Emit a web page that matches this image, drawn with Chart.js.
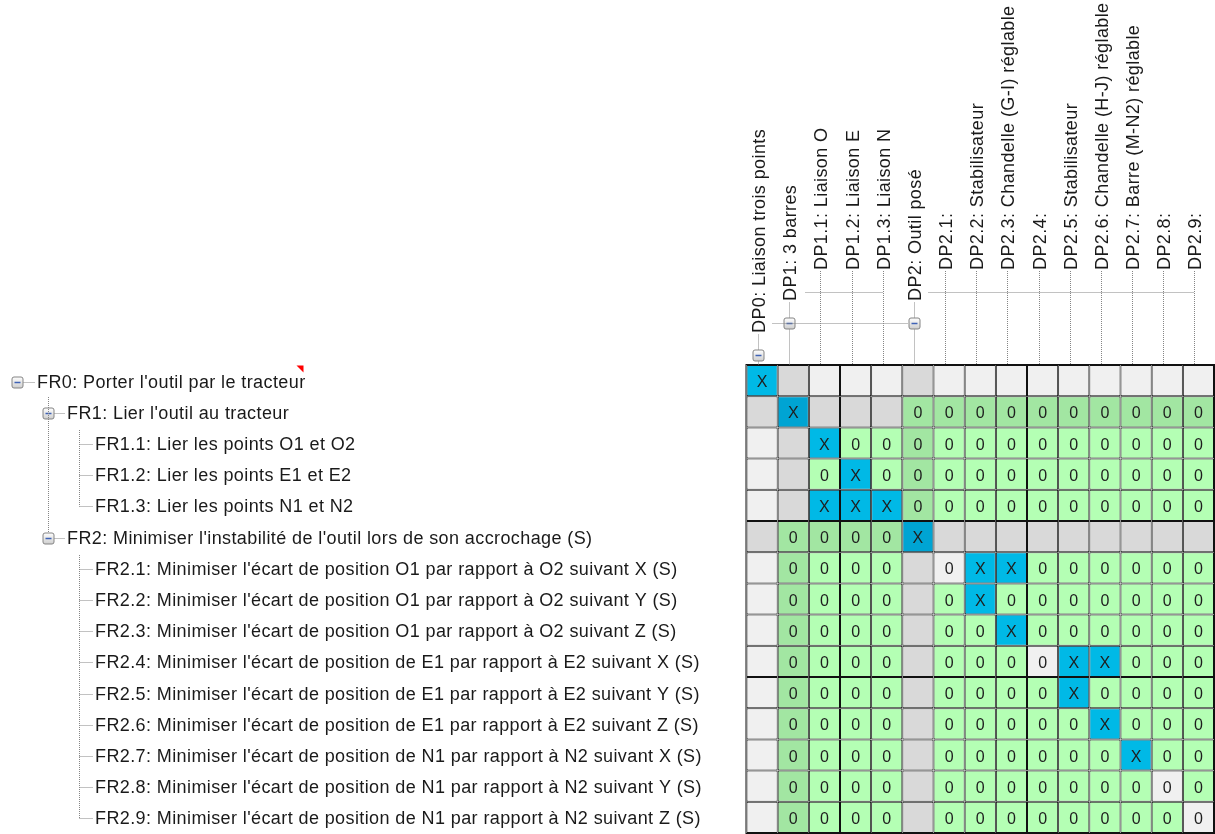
<!DOCTYPE html>
<html>
<head>
<meta charset="utf-8">
<script src="https://cdn.jsdelivr.net/npm/chart.js@4.4.0/dist/chart.umd.min.js"></script>
<style>
  body { margin: 0; background: #fff; }
  #wrap { width: 1215px; height: 834px; position: relative; }
</style>
</head>
<body>
<div id="wrap"><canvas id="dsm"></canvas></div>
<script>
// functional requirements (rows)
var frLabels = [
    "FR0: Porter l'outil par le tracteur",
    "FR1: Lier l'outil au tracteur",
    "FR1.1: Lier les points O1 et O2",
    "FR1.2: Lier les points E1 et E2",
    "FR1.3: Lier les points N1 et N2",
    "FR2: Minimiser l'instabilité de l'outil lors de son accrochage (S)",
    "FR2.1: Minimiser l'écart de position O1 par rapport à O2 suivant X (S)",
    "FR2.2: Minimiser l'écart de position O1 par rapport à O2 suivant Y (S)",
    "FR2.3: Minimiser l'écart de position O1 par rapport à O2 suivant Z (S)",
    "FR2.4: Minimiser l'écart de position de E1 par rapport à E2 suivant X (S)",
    "FR2.5: Minimiser l'écart de position de E1 par rapport à E2 suivant Y (S)",
    "FR2.6: Minimiser l'écart de position de E1 par rapport à E2 suivant Z (S)",
    "FR2.7: Minimiser l'écart de position de N1 par rapport à N2 suivant X (S)",
    "FR2.8: Minimiser l'écart de position de N1 par rapport à N2 suivant Y (S)",
    "FR2.9: Minimiser l'écart de position de N1 par rapport à N2 suivant Z (S)"
]
var frLevels = [0, 1, 2, 2, 2, 1, 2, 2, 2, 2, 2, 2, 2, 2, 2]

// design parameters (columns)
var dpLabels = [
    "DP0: Liaison trois points",
    "DP1: 3 barres",
    "DP1.1: Liaison O",
    "DP1.2: Liaison E",
    "DP1.3: Liaison N",
    "DP2: Outil posé",
    "DP2.1:",
    "DP2.2: Stabilisateur",
    "DP2.3: Chandelle (G-I) réglable",
    "DP2.4:",
    "DP2.5: Stabilisateur",
    "DP2.6: Chandelle (H-J) réglable",
    "DP2.7: Barre (M-N2) réglable",
    "DP2.8:",
    "DP2.9:"
]
var dpLevels = [0, 1, 2, 2, 2, 1, 2, 2, 2, 2, 2, 2, 2, 2, 2]

// design matrix: one string per FR, one char per DP (X = link, 0 = none, . = empty)
var matrix = [
    "X..............",
    ".X...0000000000",
    "..X000000000000",
    "..0X00000000000",
    "..XXX0000000000",
    ".0000X.........",
    ".0000.0XX000000",
    ".0000.0X0000000",
    ".0000.00X000000",
    ".0000.0000XX000",
    ".0000.0000X0000",
    ".0000.00000X000",
    ".0000.000000X00",
    ".0000.000000000",
    ".0000.000000000"
]

function cellColor(r, c) {
    var v = matrix[r][c]
    var parent = frLevels[r] == 1 || dpLevels[c] == 1
    if (v == 'X') return parent ? '#00a4d3' : '#00b9e6'
    if (v == '0') {
        if (r == c) return '#f0f0f0'
        return parent ? '#a2e6a2' : '#b4ffb4'
    }
    return parent ? '#d9d9d9' : '#f0f0f0'
}

var datasets = dpLabels.map(function (dp, c) {
    return {
        label: dp,
        data: frLabels.map(function () { return 1 }),
        backgroundColor: frLabels.map(function (fr, r) { return cellColor(r, c) }),
        borderColor: '#111',
        borderWidth: 1,
        borderSkipped: false,
        inflateAmount: 0,
        barPercentage: 1,
        categoryPercentage: 1
    }
})

var FONT = '18px "Liberation Sans", Arial, sans-serif'

function dotted(ctx, x1, y1, x2, y2) {
    ctx.save()
    ctx.strokeStyle = '#858585'
    ctx.lineWidth = 1
    ctx.setLineDash([1, 1])
    ctx.beginPath()
    ctx.moveTo(x1, y1)
    ctx.lineTo(x2, y2)
    ctx.stroke()
    ctx.restore()
}

function expander(ctx, cx, cy) {
    ctx.save()
    var g = ctx.createLinearGradient(0, cy - 5, 0, cy + 5)
    g.addColorStop(0, '#fcfcfc')
    g.addColorStop(1, '#d0d0d0')
    ctx.fillStyle = g
    ctx.strokeStyle = '#848484'
    ctx.lineWidth = 1
    ctx.beginPath()
    ctx.roundRect(cx - 5.5, cy - 5.5, 11, 11, 2)
    ctx.fill()
    ctx.stroke()
    ctx.strokeStyle = '#3f62b5'
    ctx.lineWidth = 1.5
    ctx.beginPath()
    ctx.moveTo(cx - 3, cy)
    ctx.lineTo(cx + 3, cy)
    ctx.stroke()
    ctx.restore()
}

var treePlugin = {
    id: 'trees',
    afterDraw: function (chart) {
        var ctx = chart.ctx
        var xs = chart.scales.x, ys = chart.scales.y
        var area = chart.chartArea

        // cell marks
        ctx.save()
        ctx.font = '16px "Liberation Sans", Arial, sans-serif'
        ctx.fillStyle = '#1e1e1e'
        ctx.textAlign = 'center'
        ctx.textBaseline = 'alphabetic'
        chart.data.datasets.forEach(function (ds, c) {
            chart.getDatasetMeta(c).data.forEach(function (bar, r) {
                var v = matrix[r][c]
                if (v == '.') return
                ctx.fillText(v, (bar.x + bar.base) / 2, bar.y + 6.5)
            })
        })
        ctx.restore()

        // outer frame
        ctx.save()
        ctx.strokeStyle = '#111'
        ctx.lineWidth = 1
        ctx.strokeRect(area.left - 0.5, area.top - 0.5, area.right - area.left + 1, area.bottom - area.top + 1)
        ctx.restore()

        // FR tree (left)
        var rowY = function (r) { return ys.getPixelForValue(r) }
        var textX = [37, 67, 95]
        var boxX = [17.5, 48.5]
        ctx.save()
        ctx.font = FONT
        ctx.letterSpacing = '0.4px'
        ctx.fillStyle = '#1a1a1a'
        ctx.textBaseline = 'alphabetic'
        frLabels.forEach(function (lab, r) {
            var lv = frLevels[r]
            var y = Math.round(rowY(r)) + 1.5
            if (lv < 2) {
                expander(ctx, boxX[lv], y)
                dotted(ctx, boxX[lv] + 6, y, textX[lv] - 2, y)
            } else {
                dotted(ctx, 79.5, y, textX[2] - 2, y)
            }
            ctx.fillText(lab, textX[lv], rowY(r) + 7)
            if (r == 0) {
                var xe = textX[0] + ctx.measureText(lab).width - 3
                ctx.fillStyle = '#ff0000'
                ctx.beginPath()
                ctx.moveTo(xe - 6, ys.getPixelForValue(0) - 15)
                ctx.lineTo(xe + 1, ys.getPixelForValue(0) - 15)
                ctx.lineTo(xe + 1, ys.getPixelForValue(0) - 8)
                ctx.fill()
                ctx.fillStyle = '#1a1a1a'
            }
        })
        // vertical connectors
        dotted(ctx, 48.5, Math.round(rowY(0)) + 16, 48.5, Math.round(rowY(5)) - 5)
        dotted(ctx, 79.5, Math.round(rowY(1)) + 18, 79.5, Math.round(rowY(4)) + 1.5)
        dotted(ctx, 79.5, Math.round(rowY(5)) + 18, 79.5, Math.round(rowY(14)) + 1.5)
        ctx.restore()

        // DP tree (top, rotated)
        var colX = function (c) { return Math.round(xs.getPixelForValue(c + 0.5)) - 3.5 }
        var top = area.top
        var textY = [top - 32, top - 64, top - 95]
        var boxY = [top - 9.5, top - 41.5]
        ctx.save()
        ctx.font = FONT
        ctx.letterSpacing = '0.4px'
        ctx.fillStyle = '#1a1a1a'
        ctx.textBaseline = 'alphabetic'
        dpLabels.forEach(function (lab, c) {
            var lv = dpLevels[c]
            var x = colX(c)
            if (lv < 2) {
                expander(ctx, x, boxY[lv])
                dotted(ctx, x, boxY[lv] - 6, x, textY[lv] + 1)
                dotted(ctx, x, boxY[lv] + 6, x, top)
            } else {
                dotted(ctx, x, textY[2] + 1, x, top)
            }
            ctx.save()
            ctx.translate(x + 6.5, textY[lv])
            ctx.rotate(-Math.PI / 2)
            ctx.fillText(lab, 0, 0)
            ctx.restore()
        })
        dotted(ctx, colX(0) + 14, boxY[1], colX(5) - 6, boxY[1])
        dotted(ctx, colX(1) + 16, top - 72.5, colX(4), top - 72.5)
        dotted(ctx, colX(5) + 14, top - 72.5, colX(14), top - 72.5)
        ctx.restore()
    }
}

var chart = new Chart(document.getElementById('dsm'), {
    type: 'bar',
    data: {
        labels: frLabels,
        datasets: datasets
    },
    options: {
        indexAxis: 'y',
        responsive: true,
        maintainAspectRatio: false,
        animation: false,
        layout: { padding: { left: 746.5, top: 365, right: 1, bottom: 1 } },
        scales: {
            x: { type: 'linear', stacked: true, min: 0, max: dpLabels.length, display: false },
            y: { stacked: true, display: false }
        },
        plugins: {
            legend: { display: false },
            tooltip: { enabled: false }
        }
    },
    plugins: [treePlugin]
})
</script>
</body>
</html>
